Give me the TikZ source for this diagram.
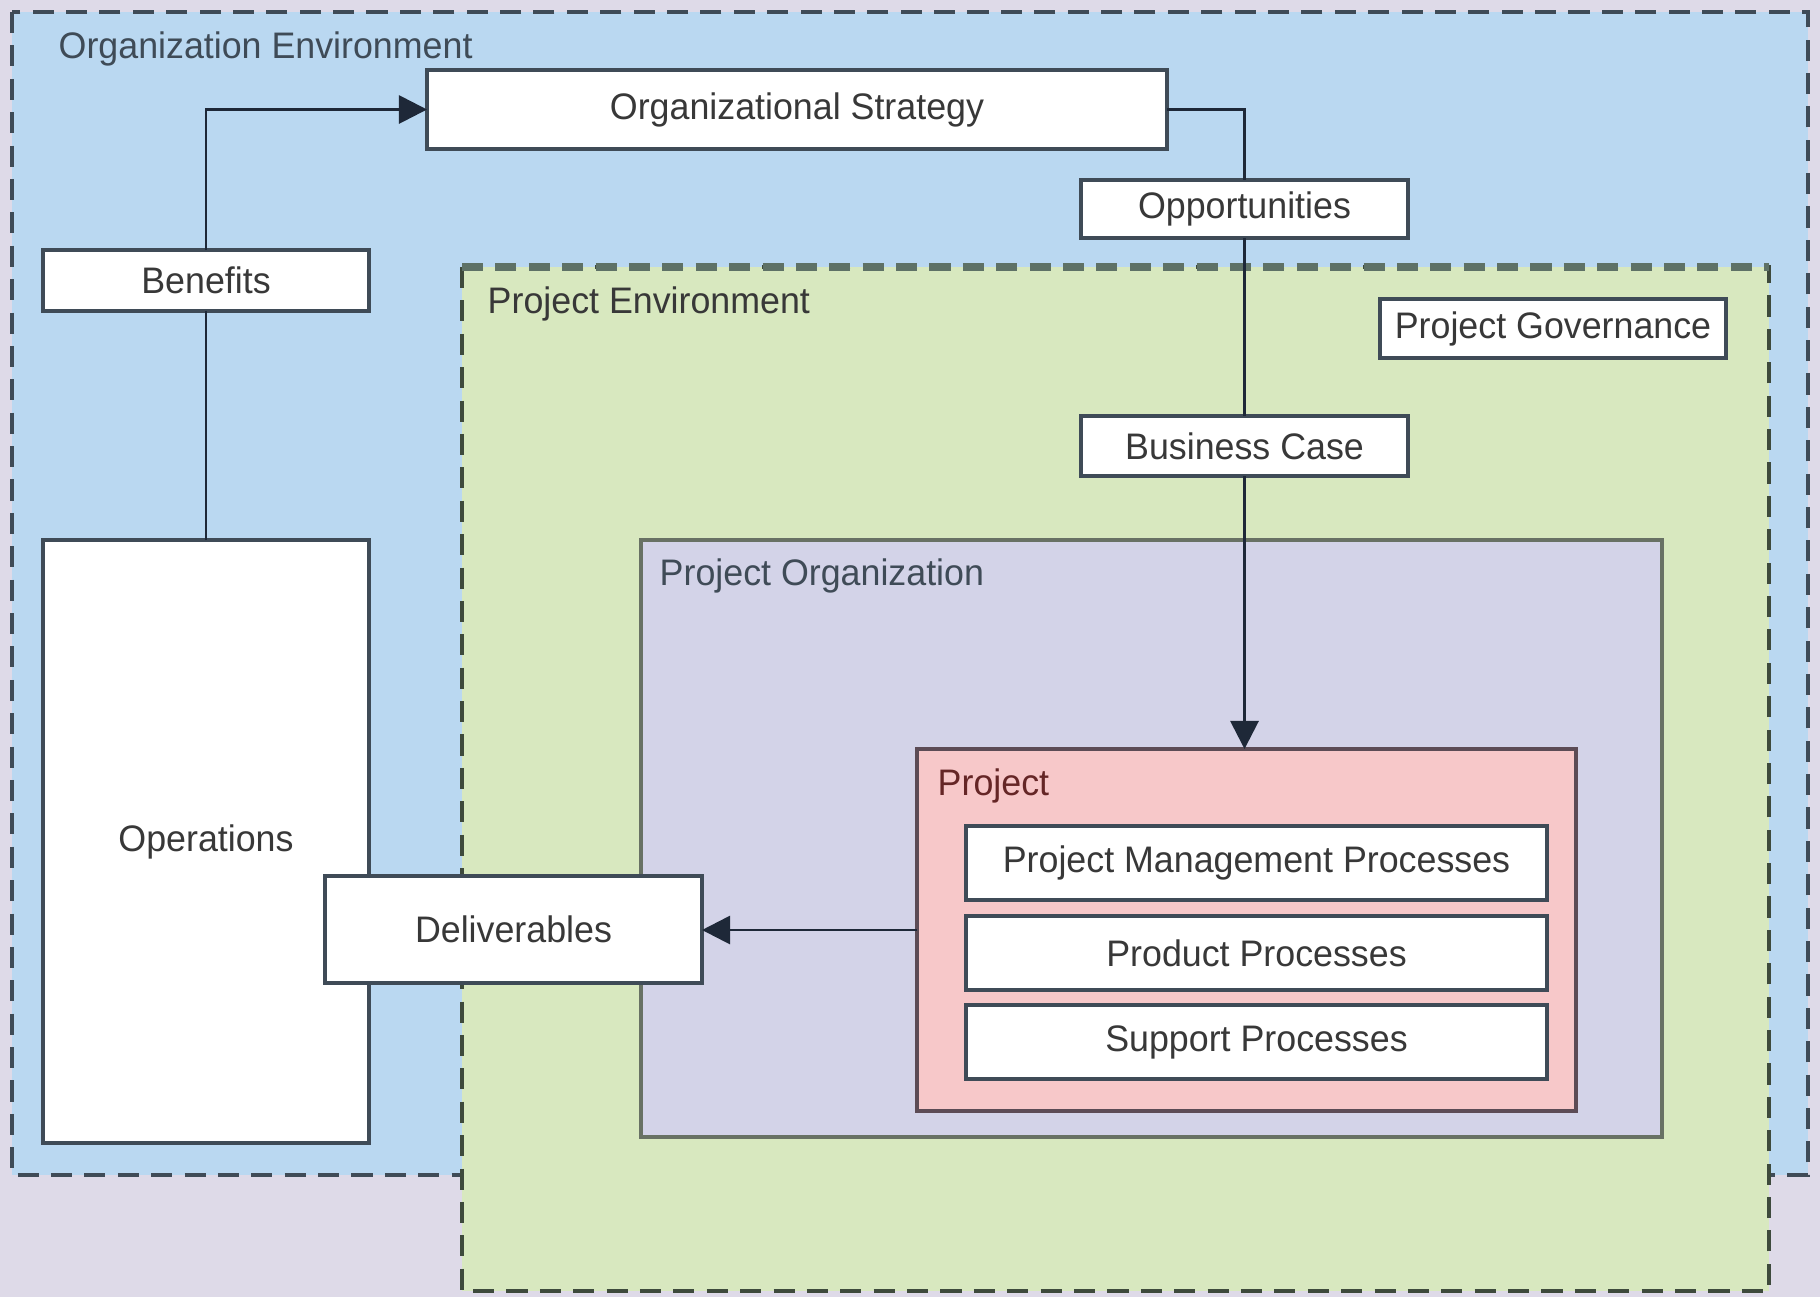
\documentclass[tikz,border=0pt]{standalone}
\usepackage{fontspec}
\setmainfont{Liberation Sans}[FakeStretch=0.97]
\usetikzlibrary{arrows.meta}
\definecolor{pagelav}{HTML}{DEDAE8}
\definecolor{orgblue}{HTML}{BAD8F1}
\definecolor{envgreen}{HTML}{D8E8BF}
\definecolor{orglav}{HTML}{D3D3E8}
\definecolor{projpink}{HTML}{F7C8C9}
\definecolor{edge}{HTML}{3F4B57}
\definecolor{envedge}{HTML}{3E4A3C}
\definecolor{envtop}{HTML}{5E7166}
\definecolor{lavedge}{HTML}{687164}
\definecolor{pinkedge}{HTML}{5C4B55}
\definecolor{wire}{HTML}{1E2838}
\definecolor{txt}{HTML}{383838}
\begin{document}
\begin{tikzpicture}[x=0.1mm, y=-0.1mm,
  box/.style={draw=edge, line width=1pt, fill=white, inner sep=0pt, outer sep=0pt,
    font=\fontsize{10.5}{12}\selectfont, text=txt},
  wire/.style={draw=wire, line width=0.8pt},
  arr/.style={-{Triangle[length=8pt,width=8pt]}},
  envlabel/.style={anchor=west, inner sep=0pt, font=\fontsize{10.5}{12}\selectfont}]
% page and environments
\fill[pagelav] (0,0) rectangle (1820,1297);
\fill[orgblue] (12,12) rectangle (1808,1175);
\draw[edge, line width=0.9pt, dash pattern=on 6pt off 3.5pt] (12,12) rectangle (1808,1175);
\fill[envgreen] (462,267) rectangle (1769,1291);
\draw[envedge, line width=0.9pt, dash pattern=on 6pt off 3.5pt] (462,267) rectangle (1769,1291);
\draw[envtop, line width=2pt, dash pattern=on 6pt off 3.5pt] (462,267) -- (1769,267);
\draw[draw=lavedge, fill=orglav, line width=1.4pt] (641,540) rectangle (1662,1137);
\node[envlabel, text=edge] (orglbl) at (58,49) {Organization Environment};
\node[envlabel, text=txt] (envlbl) at (487,304) {Project Environment};
\node[envlabel, text=edge] (orglvl) at (659,576) {Project Organization};
% project
\node[draw=pinkedge, fill=projpink, line width=1.1pt, inner sep=0pt, outer sep=0pt,
  minimum width=65.9mm, minimum height=36.2mm] (project) at (1246.5,930) {};
\node[envlabel, text=black!65!red!70!gray] (projlbl) at (937,786) {Project};
\node[box, minimum width=58.1mm, minimum height=7.4mm] (pmp) at (1256.5,863) {Project Management Processes};
\node[box, minimum width=58.1mm, minimum height=7.4mm] (prod) at (1256.5,953) {Product Processes};
\node[box, minimum width=58.1mm, minimum height=7.4mm] (supp) at (1256.5,1042) {Support Processes};
% boxes
\node[box, minimum width=74mm, minimum height=7.9mm] (strategy) at (797,109.5) {Organizational Strategy};
\node[box, minimum width=32.7mm, minimum height=5.8mm] (opp) at (1244.5,209) {Opportunities};
\node[box, minimum width=32.7mm, minimum height=6mm] (bcase) at (1244.5,446) {Business Case};
\node[box, minimum width=34.6mm, minimum height=5.9mm] (gov) at (1553,328.5) {Project Governance};
\node[box, minimum width=32.6mm, minimum height=6.1mm] (benefits) at (206,280.5) {Benefits};
\node[box, minimum width=32.6mm, minimum height=60.3mm] (ops) at (206,841.5) {Operations};
\node[box, minimum width=37.7mm, minimum height=10.7mm] (deliv) at (513.5,929.5) {Deliverables};
% flow
\draw[wire] (ops.north) -- (benefits.south);
\draw[wire, arr] (benefits.north) |- (strategy.west);
\draw[wire] (strategy.east) -| (opp.north);
\draw[wire] (opp.south) -- (bcase.north);
\draw[wire, arr] (bcase.south) -- (bcase.south |- project.north);
\draw[wire, arr] (project.west) -- (project.west -| deliv.east);
\end{tikzpicture}
\end{document}
